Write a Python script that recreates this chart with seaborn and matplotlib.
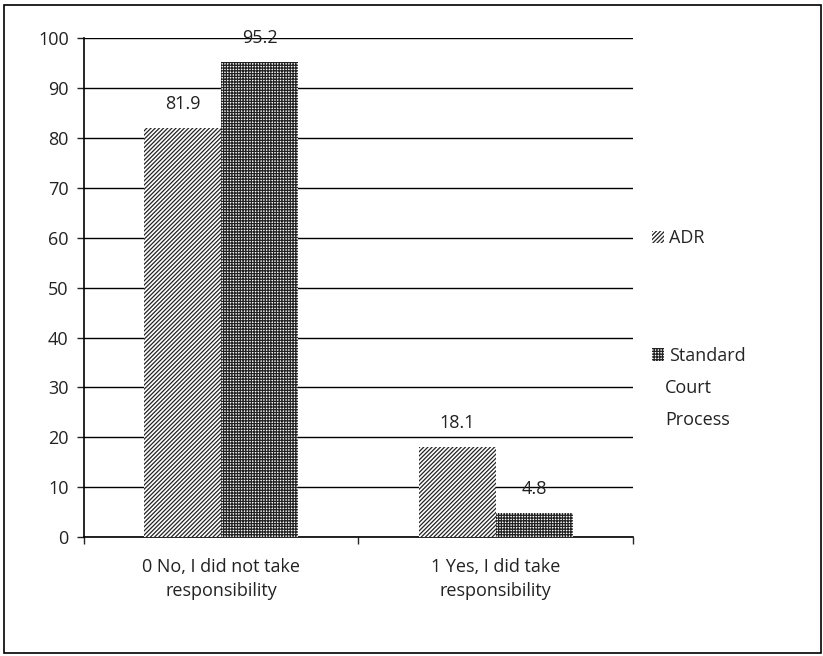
import pandas as pd
import matplotlib.pyplot as plt
import seaborn as sns
from matplotlib.patches import Patch, Rectangle

categories = ['0 No, I did not take\nresponsibility', '1 Yes, I did take\nresponsibility']
groups = ['ADR', 'Standard Court Process']
adr = [81.9, 18.1]
court = [95.2, 4.8]
hatches = ['////////', '++++++']

df = pd.DataFrame({
    'cat': categories * 2,
    'group': [groups[0]] * 2 + [groups[1]] * 2,
    'val': adr + court,
})

sns.set_style('white')
plt.rcParams['font.family'] = ['Open Sans', 'DejaVu Sans']
plt.rcParams['hatch.linewidth'] = 0.9

fig = plt.figure(figsize=(8.23, 6.56), dpi=100)
ax = fig.add_axes([0.102, 0.181, 0.667, 0.761])

sns.barplot(data=df, x='cat', y='val', hue='group', hue_order=groups,
            palette=['white', 'white'], width=0.56, ax=ax, legend=False,
            edgecolor='black', linewidth=0, zorder=3)

# hatch fill per series
for cont, h in zip(ax.containers, hatches):
    for p in cont:
        p.set_hatch(h)
        p.set_edgecolor('#222222')
        p.set_linewidth(0)
    ax.bar_label(cont, fmt='%.1f', padding=11, fontsize=13, color='#222222')

ax.set_ylim(0, 100)
ax.set_xlim(-0.5, 1.5)
ax.set_yticks(range(0, 101, 10))
ax.yaxis.grid(True, color='black', linewidth=1)
ax.set_axisbelow(True)
ax.set_xlabel('')
ax.set_ylabel('')
for s in ['top', 'right']:
    ax.spines[s].set_visible(False)
for s in ['left', 'bottom']:
    ax.spines[s].set_color('black')
    ax.spines[s].set_linewidth(1.2)
ax.tick_params(axis='y', left=True, length=5, width=1, labelsize=13, pad=6, colors='#222222')
ax.set_xticks([-0.5, 0.5, 1.5], minor=True)
ax.set_xticklabels(categories, linespacing=1.45)
ax.tick_params(axis='x', which='major', length=0, labelsize=13, pad=15, colors='#222222')
ax.tick_params(axis='x', which='minor', bottom=True, length=5, width=1)

# legend on the right
handles = [Patch(facecolor='white', edgecolor='#222222', hatch=h, linewidth=0) for h in hatches]
fig.legend(handles, ['ADR', 'Standard'], loc='upper left', bbox_to_anchor=(0.772, 0.675),
           frameon=False, fontsize=13, handlelength=0.7, handleheight=0.7,
           handletextpad=0.25, labelspacing=5.5)
fig.text(0.808, 0.422, 'Court\nProcess', fontsize=13, va='top', ha='left',
         color='#222222', linespacing=2.0)

fig.patches.append(Rectangle((0.005, 0.004), 0.992, 0.988, transform=fig.transFigure,
                             fill=False, edgecolor='black', linewidth=1.2))

fig.savefig('out.png', dpi=100)
